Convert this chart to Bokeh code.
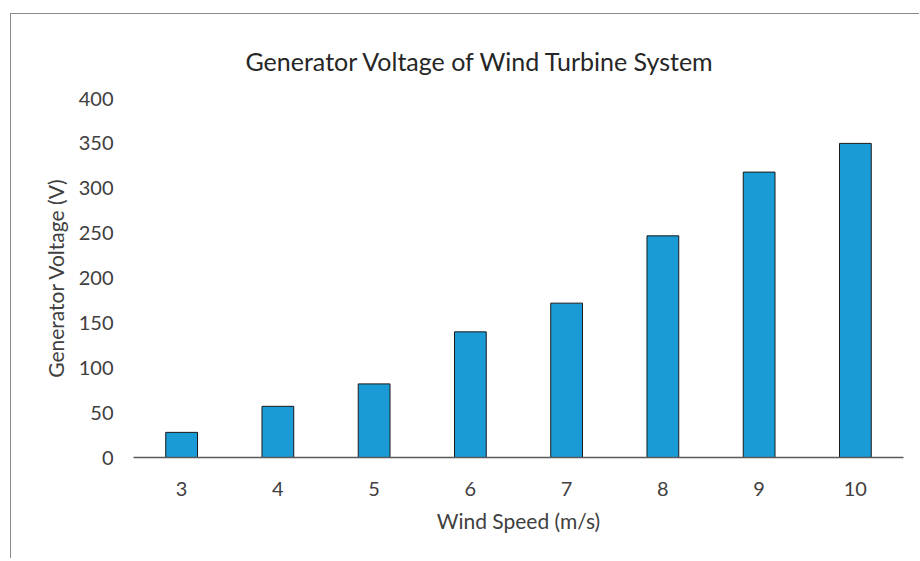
from bokeh.plotting import figure
from bokeh.models import FactorRange, Range1d, FixedTicker, Title
from bokeh.embed import file_html
from bokeh.resources import INLINE

wind_speed = ["3", "4", "5", "6", "7", "8", "9", "10"]
voltage = [28, 57, 82, 140, 172, 247, 318, 350]
y_ticks = [0, 50, 100, 150, 200, 250, 300, 350, 400]

FONT = "Lato"
TXT = "#404040"

p = figure(
    width=909, height=545,
    x_range=FactorRange(*wind_speed, range_padding=0),
    y_range=Range1d(0, 400),
    output_backend="svg", toolbar_location=None,
    min_border_left=122, min_border_right=17,
    min_border_top=84, min_border_bottom=102,
)
p.margin = (13, 0, 0, 10)
p.styles = {"border-top": "1px solid #8a8a8a", "border-left": "1px solid #8a8a8a"}
p.outline_line_color = None
p.xgrid.grid_line_color = None
p.ygrid.grid_line_color = None

p.vbar(x=wind_speed, top=voltage, width=0.33, bottom=0,
       fill_color="#1a9bd6", line_color="#1a1a1a", line_width=1)

title = Title(text="Generator Voltage of Wind Turbine System",
              text_font=FONT, text_font_size="25px", text_font_style="normal",
              text_color="#262626", align="left", offset=112, standoff=46)
p.add_layout(title, "above")

xa = p.xaxis[0]
xa.axis_line_color = "#595959"
xa.axis_line_width = 1.5
xa.major_tick_line_color = None
xa.minor_tick_line_color = None
xa.major_tick_out = 0
xa.major_label_standoff = 24
xa.major_label_text_font = FONT
xa.major_label_text_font_size = "20px"
xa.major_label_text_color = TXT
xa.axis_label = "Wind Speed (m/s)"
xa.axis_label_text_font = FONT
xa.axis_label_text_font_size = "21px"
xa.axis_label_text_font_style = "normal"
xa.axis_label_text_color = TXT
xa.axis_label_standoff = 9

ya = p.yaxis[0]
ya.ticker = FixedTicker(ticks=y_ticks)
ya.axis_line_color = None
ya.major_tick_line_color = None
ya.minor_tick_line_color = None
ya.major_tick_out = 0
ya.major_label_standoff = 20
ya.major_label_text_font = FONT
ya.major_label_text_font_size = "20px"
ya.major_label_text_color = TXT
ya.axis_label = "Generator Voltage (V)"
ya.axis_label_text_font = FONT
ya.axis_label_text_font_size = "21px"
ya.axis_label_text_font_style = "normal"
ya.axis_label_text_color = TXT
ya.axis_label_standoff = 8

open("out.html", "w").write(file_html(p, INLINE))
